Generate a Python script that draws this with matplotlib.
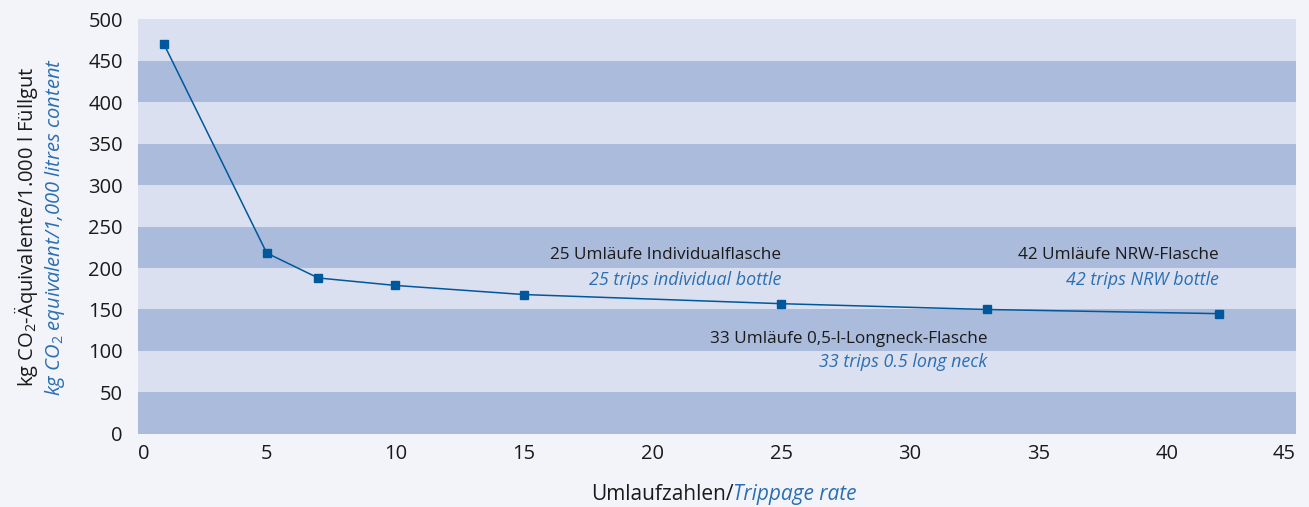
import matplotlib.pyplot as plt
import numpy as np

c_line = "#00589c"
c_band_dark = "#abbbdc"
c_band_light = "#dbe0f0"
c_bg = "#f3f4f9"
c_blue_text = "#2a6fb3"

plt.rcParams["font.family"] = ["Open Sans", "DejaVu Sans"]
plt.rcParams["mathtext.fontset"] = "custom"
plt.rcParams["mathtext.rm"] = "Open Sans"
plt.rcParams["mathtext.it"] = "Open Sans:italic"

# data
trips = [1, 5, 7, 10, 15, 25, 33, 42]
co2 = [470, 218, 188, 179, 168, 157, 150, 145]

band_edges = np.arange(0, 501, 50)
xticks = [0, 5, 10, 15, 20, 25, 30, 35, 40, 45]

# annotations
notes_x = [25, 42, 33]
notes_y_de = [216, 216, 114]
notes_y_en = [186, 186, 87]
notes_de = ["25 Umläufe Individualflasche", "42 Umläufe NRW-Flasche", "33 Umläufe 0,5-l-Longneck-Flasche"]
notes_en = ["25 trips individual bottle", "42 trips NRW bottle", "33 trips 0.5 long neck"]

fig = plt.figure(figsize=(13.09, 5.07), dpi=100)
fig.patch.set_facecolor(c_bg)
ax = fig.add_axes([0.1055, 0.1440, 0.8845, 0.8185])

# horizontal bands
for i in range(len(band_edges) - 1):
    col = c_band_dark if i % 2 == 0 else c_band_light
    ax.axhspan(band_edges[i], band_edges[i + 1], color=col, linewidth=0, zorder=0)

ax.plot(trips, co2, color=c_line, linewidth=1.1, marker="s", markersize=5.5, zorder=3)

for x, yd, ye, de, en in zip(notes_x, notes_y_de, notes_y_en, notes_de, notes_en):
    ax.text(x, yd, de, ha="right", va="center", fontsize=12.3, color="#1a1a1a")
    ax.text(x, ye, en, ha="right", va="center", fontsize=12.9, color=c_blue_text, style="italic")

ax.set_xlim(0, 45)
ax.set_ylim(0, 500)
ax.set_xticks(xticks)
ax.set_xticklabels([str(t) for t in xticks])
ax.set_yticks(band_edges)
ax.tick_params(axis="both", length=0, labelsize=14.5, colors="#1a1a1a")
ax.tick_params(axis="y", pad=11)
ax.tick_params(axis="x", pad=7)
lbls = ax.get_xticklabels()
lbls[0].set_ha("left")
lbls[-1].set_ha("right")
for s in ax.spines.values():
    s.set_visible(False)

# y label in two languages
ax.text(-0.097, 0.5, "kg CO$_2$-Äquivalente/1.000 l Füllgut", transform=ax.transAxes,
        rotation=90, ha="center", va="center", fontsize=14.5, color="#1a1a1a")
ax.text(-0.072, 0.5, "kg CO$_{\\mathit{2}}$ equivalent/1,000 litres content", transform=ax.transAxes,
        rotation=90, ha="center", va="center", fontsize=14.5, color=c_blue_text, style="italic")

# x label in two languages
ax.text(0.514, -0.145, "Umlaufzahlen/", transform=ax.transAxes, ha="right", va="center",
        fontsize=15, color="#1a1a1a")
ax.text(0.514, -0.145, "Trippage rate", transform=ax.transAxes, ha="left", va="center",
        fontsize=15, color=c_blue_text, style="italic")

fig.savefig("out.png", dpi=100, facecolor=c_bg)
